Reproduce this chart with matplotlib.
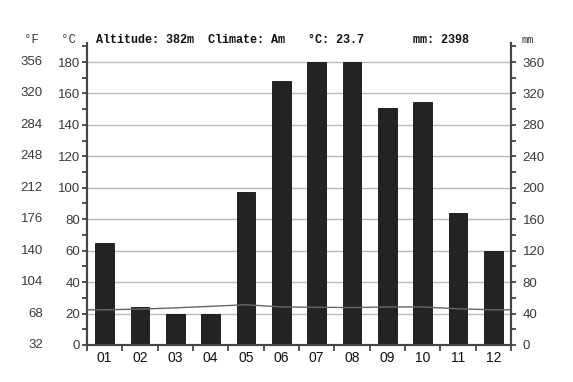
import numpy as np
import matplotlib.pyplot as plt
from matplotlib.ticker import MultipleLocator

months = ["01", "02", "03", "04", "05", "06", "07", "08", "09", "10", "11", "12"]
precip_mm = [130, 48, 40, 40, 194, 336, 360, 360, 301, 309, 168, 120]
temp_c = [22.4, 22.8, 23.6, 24.6, 25.6, 24.2, 24.0, 23.8, 24.2, 24.2, 23.0, 22.4]
c_ticks = [0, 20, 40, 60, 80, 100, 120, 140, 160, 180]
f_labels = ["32", "68", "104", "140", "176", "212", "248", "284", "320", "356"]
mm_ticks = [0, 40, 80, 120, 160, 200, 240, 280, 320, 360]
altitude = "382m"
climate = "Am"
mean_c = 23.7
total_mm = 2398

spine_col = "#444444"
label_col = "#3a3a3a"
tick_font = "Liberation Sans"

fig = plt.figure(figsize=(5.73, 3.82), dpi=100)
ax = fig.add_axes([0.1518, 0.0969, 0.74, 0.7905])
axr = ax.twinx()

x = np.arange(len(months))
ctop = 180 * 302 / 283

# precipitation bars on the mm axis
axr.bar(x, precip_mm, width=0.52, color="#232323", edgecolor="#111111", linewidth=0.6, zorder=2)
axr.set_ylim(0, 2 * ctop)
axr.set_yticks(mm_ticks)
axr.yaxis.set_minor_locator(MultipleLocator(20))

# grid on the celsius axis
for c in c_ticks[1:]:
    ax.axhline(c, color="#bbbbbb", linewidth=1.0, zorder=0)

# temperature line, held flat to the plot edges
tx = np.concatenate([[-0.5], x, [len(months) - 0.5]])
ty = np.concatenate([[temp_c[0]], temp_c, [temp_c[-1]]])
axr.plot(tx, np.array(ty) * 2, color="#666666", linewidth=1.0, zorder=3)

ax.set_xlim(-0.5, len(months) - 0.5)
ax.set_ylim(0, ctop)
ax.set_yticks(c_ticks)
ax.yaxis.set_minor_locator(MultipleLocator(10))
ax.set_xticks(x)
ax.set_xticklabels(months)
ax.set_xticks(np.arange(len(months) + 1) - 0.5, minor=True)

for a in (ax, axr):
    a.spines["top"].set_visible(False)
    for s in ("left", "right", "bottom"):
        a.spines[s].set_color(spine_col)
        a.spines[s].set_linewidth(1.5)

ax.tick_params(axis="x", which="major", length=0, pad=4, labelsize=10, labelcolor="#111111")
ax.tick_params(axis="x", which="minor", length=4, width=1.3, color=spine_col, direction="out")
ax.tick_params(axis="y", which="both", length=3.5, width=1.3, color=spine_col, pad=1.5,
               labelsize=9.5, labelcolor=label_col)
axr.tick_params(axis="y", which="both", length=3.5, width=1.3, color=spine_col, pad=5,
                labelsize=9.5, labelcolor=label_col)
for lab in ax.get_xticklabels() + ax.get_yticklabels() + axr.get_yticklabels():
    lab.set_family(tick_font)

# fahrenheit labels, further out on the left
for c, f in zip(c_ticks, f_labels):
    ax.text(-0.104, c, f, transform=ax.get_yaxis_transform(), ha="right", va="center",
            fontsize=9.5, color=label_col, family=tick_font)

# header
mono = dict(family="Liberation Mono", fontsize=8.5, color="#111111", fontweight="bold")
ytop = 1 - 40 / 382
fig.text(96 / 573, ytop, f"Altitude: {altitude}  Climate: {climate}", va="center", **mono)
fig.text(308 / 573, ytop, f"°C: {mean_c}", va="center", **mono)
fig.text(413 / 573, ytop, f"mm: {total_mm}", va="center", **mono)
fig.text(24 / 573, ytop, "°F", va="center", family="Liberation Mono", fontsize=9, color=label_col)
fig.text(61 / 573, ytop, "°C", va="center", family="Liberation Mono", fontsize=9, color=label_col)
fig.text(522 / 573, ytop, "mm", va="center", family="Liberation Mono", fontsize=7.5, color=label_col)

fig.savefig("out.png", dpi=100)
